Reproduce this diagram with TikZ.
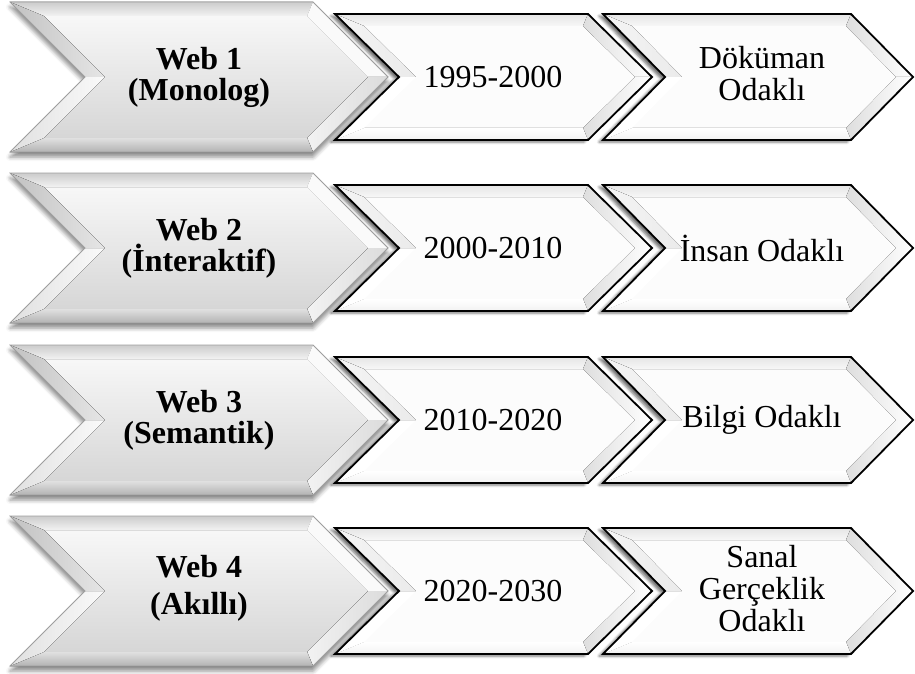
\documentclass[tikz,border=0pt]{standalone}
\usepackage{fontspec}
\setmainfont{Liberation Serif}
\usetikzlibrary{shadows.blur}

% corner points of a chevron (P) and of its inner bevel face (Q)
% #1 width, #2 point depth, #3 half height, #4 bevel width
\newcommand\chevcoords[4]{%
  \pgfmathsetmacro\bvs{#4*1.41421}%
  \coordinate (P1) at (0,{-#3});
  \coordinate (P2) at ({#1-#2},{-#3});
  \coordinate (P3) at (#1,0);
  \coordinate (P4) at ({#1-#2},#3);
  \coordinate (P5) at (0,#3);
  \coordinate (P6) at (#2,0);
  \coordinate (Q1) at ({#4+\bvs},{-#3+#4});
  \coordinate (Q2) at ({#1-#2+#4-\bvs},{-#3+#4});
  \coordinate (Q3) at ({#1-\bvs},0);
  \coordinate (Q4) at ({#1-#2+#4-\bvs},{#3-#4});
  \coordinate (Q5) at ({#4+\bvs},{#3-#4});
  \coordinate (Q6) at ({#2+\bvs},0);
}

% bevelled chevron body, #1 is the style family
\newcommand\chevbody[1]{%
  \path[#1 shadow] (P1)--(P2)--(P3)--(P4)--(P5)--(P6)--cycle;
  \fill[#1 face] (Q1)--(Q2)--(Q3)--(Q4)--(Q5)--(Q6)--cycle;
  \fill[#1 top] (P1)--(P2)--(Q2)--(Q1)--cycle;
  \fill[#1 ur] (P2)--(P3)--(Q3)--(Q2)--cycle;
  \fill[#1 lr] (P3)--(P4)--(Q4)--(Q3)--cycle;
  \fill[#1 bottom] (P4)--(P5)--(Q5)--(Q4)--cycle;
  \fill[#1 ll] (P5)--(P6)--(Q6)--(Q5)--cycle;
  \fill[#1 ul] (P6)--(P1)--(Q1)--(Q6)--cycle;
  \draw[#1 edge] (P1)--(P2)--(P3)--(P4)--(P5)--(P6)--cycle;
}

\tikzset{
  big shadow/.style={fill=black!30, blur shadow={shadow xshift=0pt, shadow yshift=-5pt,
      shadow blur radius=4pt, shadow opacity=45}},
  big face/.style={top color=black!3, bottom color=black!16},
  big top/.style={top color=black!20, bottom color=black!5},
  big ur/.style={fill=black!2},
  big lr/.style={left color=black!5, right color=black!14},
  big bottom/.style={top color=black!12, bottom color=black!30},
  big ll/.style={left color=black!12, right color=black!2},
  big ul/.style={left color=black!24, right color=black!10},
  big edge/.style={draw=black!38, line width=0.8pt, line join=miter},
  step shadow/.style={fill=white, blur shadow={shadow xshift=-4pt, shadow yshift=-2pt,
      shadow blur radius=2.5pt, shadow opacity=55}},
  step face/.style={fill=black!1},
  step top/.style={top color=black!10, bottom color=black!3},
  step ur/.style={left color=black!13, right color=white},
  step lr/.style={left color=black!13, right color=white},
  step bottom/.style={top color=white, bottom color=black!5},
  step ll/.style={fill=white},
  step ul/.style={left color=black!4, right color=black!8},
  step edge/.style={draw=black, line width=1.8pt, line join=miter},
  bigtext/.style={font=\bfseries\fontsize{32}{31}\selectfont, align=center, inner sep=0pt},
  steptext/.style={font=\fontsize{32}{32}\selectfont, align=center, inner sep=0pt},
}

% the three chevrons of one row, centred on height #1
\newcommand\chevrow[1]{%
  \begin{scope}[shift={(10,#1)}]
    \chevcoords{378}{75}{75}{14}\chevbody{big}
  \end{scope}
  \begin{scope}[shift={(335,#1)}]
    \chevcoords{317}{64}{63}{12}\chevbody{step}
  \end{scope}
  \begin{scope}[shift={(603,#1)}]
    \chevcoords{310}{62}{63}{12}\chevbody{step}
  \end{scope}
}

\begin{document}
\begin{tikzpicture}[x=1pt, y=-1pt]
  \useasboundingbox (0,0) rectangle (915,674);

  \chevrow{77}
  \chevrow{248}
  \chevrow{420}
  \chevrow{591}

  % row 1
  \node[bigtext] (web1) at (199,77) {Web 1\\(Monolog)};
  \node[steptext] (years1) at (493,77) {1995-2000};
  \node[steptext] (focus1) at (762,74) {Döküman\\Odaklı};

  % row 2
  \node[bigtext] (web2) at (199,248) {Web 2\\(İnteraktif)};
  \node[steptext] (years2) at (493,248) {2000-2010};
  \node[steptext] (focus2) at (762,248) {İnsan Odaklı};

  % row 3
  \node[bigtext] (web3) at (199,420) {Web 3\\(Semantik)};
  \node[steptext] (years3) at (493,420) {2010-2020};
  \node[steptext] (focus3) at (762,420) {Bilgi Odaklı};

  % row 4
  \node[bigtext] (web4) at (199,588) {Web 4\\[6pt](Akıllı)};
  \node[steptext] (years4) at (493,591) {2020-2030};
  \node[steptext] (focus4) at (762,589) {Sanal\\Gerçeklik\\Odaklı};
\end{tikzpicture}
\end{document}
